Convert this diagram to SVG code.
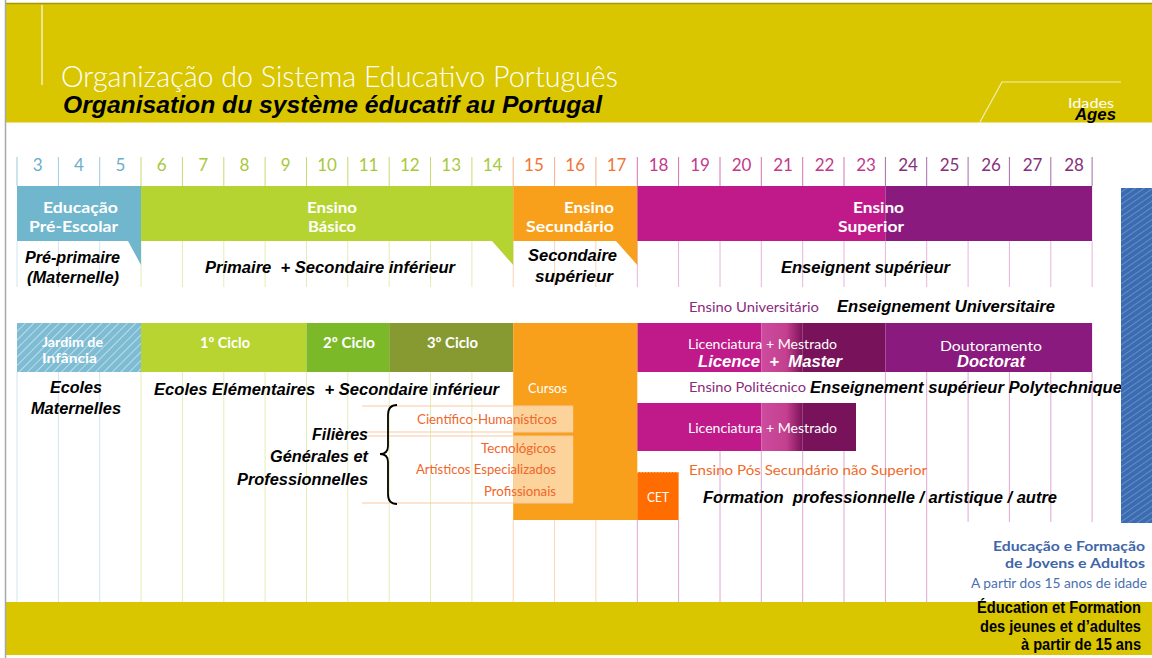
<svg xmlns="http://www.w3.org/2000/svg" width="1152" height="658" viewBox="0 0 1152 658">
<defs>
<style>
.bi{font-family:"Liberation Sans",Arial,sans-serif;font-weight:bold;font-style:italic;fill:#000;font-size:16px}
.wb{font-family:Lato,"Open Sans",sans-serif;font-weight:bold;fill:#fff;font-size:15px}
.wr{font-family:Lato,"Open Sans",sans-serif;fill:#fff;font-size:13px}
.num{font-family:Lato,"Open Sans",sans-serif;font-size:17px;text-anchor:middle}
.pt{font-family:Lato,"Open Sans",sans-serif;font-size:14px}
.pre{white-space:pre}
.g{fill:none;stroke-width:1}
</style>
<pattern id="hatchJ" patternUnits="userSpaceOnUse" width="6" height="6" patternTransform="rotate(45)">
<rect width="6" height="6" fill="#7dbcd3"/>
<line x1="0" y1="0" x2="0" y2="6" stroke="#b9dcea" stroke-width="2"/>
</pattern>
<pattern id="hatchB" patternUnits="userSpaceOnUse" width="5" height="5" patternTransform="rotate(-35)">
<rect width="5" height="5" fill="#3b6cb2"/>
<line x1="0" y1="0" x2="5" y2="0" stroke="#7fa3d3" stroke-width="1.2"/>
</pattern>
<linearGradient id="pinkG" x1="0" x2="1" y1="0" y2="0">
<stop offset="0" stop-color="#cd4c9e"/>
<stop offset="0.6" stop-color="#c4408f"/>
<stop offset="1" stop-color="#7b1259"/>
</linearGradient>
</defs>

<rect width="1152" height="658" fill="#fff"/>

<g id="header">
<rect x="6" y="3" width="1146" height="119.5" fill="#d9c600"/>
<line x1="6" y1="3.5" x2="1152" y2="3.5" stroke="#a89800" stroke-width="1.5"/>
<line x1="42" y1="5" x2="42" y2="85" stroke="#fff" stroke-opacity="0.75" stroke-width="1.5"/>
<path d="M980 122 L1002 82 H1121" fill="none" stroke="#fff" stroke-opacity="0.7" stroke-width="1.2"/>
<text x="61" y="87" textLength="557" lengthAdjust="spacingAndGlyphs" style="font-family:Lato,'Open Sans',sans-serif;font-weight:300;font-size:30px;fill:#fff">Organização do Sistema Educativo Português</text>
<text class="bi" x="63" y="113" textLength="539" lengthAdjust="spacingAndGlyphs" style="font-size:24px">Organisation du système éducatif au Portugal</text>
<text x="1068" y="108" textLength="46" lengthAdjust="spacingAndGlyphs" style="font-family:Lato,'Open Sans',sans-serif;font-size:14px;fill:#fff">Idades</text>
<text class="bi" x="1075" y="120" textLength="41" lengthAdjust="spacingAndGlyphs">Ages</text>
</g>

<rect x="6" y="602" width="1146" height="53" fill="#d9c600"/>
<line x1="5.5" y1="0" x2="5.5" y2="658" stroke="#a8a8a8" stroke-width="1.5"/>

<g id="grid">
<path class="g" stroke="#9ccbe0" d="M17 157V186M58.4 157V186M99.7 157V186"/>
<path class="g" stroke="#c6dc6c" d="M141 157V186M182.4 157V186M223.8 157V186M265.1 157V186M306.5 157V186M347.8 157V186M389.2 157V186M430.5 157V186M471.9 157V186"/>
<path class="g" stroke="#f5b184" d="M513.2 157V186M554.6 157V186M595.9 157V186"/>
<path class="g" stroke="#d672b4" d="M637.3 157V186M678.6 157V186M720 157V186M761.3 157V186M802.7 157V186M844 157V186"/>
<path class="g" stroke="#a86aa8" d="M885.4 157V186M926.7 157V186M968.1 157V186M1009.4 157V186M1050.8 157V186M1092.1 157V186"/>

<path class="g" stroke="#cfe6f0" d="M17 241V287M58.4 241V287M99.7 241V287"/>
<path class="g" stroke="#e4eeb4" d="M141 241V287M182.4 241V287M223.8 241V287M265.1 241V287M306.5 241V287M347.8 241V287M389.2 241V287M430.5 241V287M471.9 241V287"/>
<path class="g" stroke="#fbd6b6" d="M513.2 241V287M554.6 241V287M595.9 241V287"/>
<path class="g" stroke="#e8b4da" d="M637.3 241V287M678.6 241V287M720 241V287M761.3 241V287M802.7 241V287M844 241V287M885.4 241V287M926.7 241V287M968.1 241V287M1009.4 241V287M1050.8 241V287M1092.1 241V287"/>

<path class="g" stroke="#cfe6f0" d="M17 372V602M58.4 372V602M99.7 372V602"/>
<path class="g" stroke="#e4eeb4" d="M141 372V602M182.4 372V602M223.8 372V602M265.1 372V602M306.5 372V602M347.8 372V602M389.2 372V602M430.5 372V602M471.9 372V602"/>
<path class="g" stroke="#fbd6b6" d="M513.2 520V602M554.6 520V602M595.9 520V602"/>
<path class="g" stroke="#e2a6d2" d="M637.3 520V602M678.6 520V602M720 451V602M761.3 451V602M802.7 451V602M844 451V602M885.4 372V602M926.7 372V602M968.1 372V522M1009.4 372V522M1050.8 372V522M1092.1 372V522"/>
</g>

<g id="ages">
<text class="num" fill="#6aaec8" x="37.7" y="171">3</text>
<text class="num" fill="#6aaec8" x="79" y="171">4</text>
<text class="num" fill="#6aaec8" x="120.4" y="171">5</text>
<text class="num" fill="#a8c83c" x="161.7" y="171">6</text>
<text class="num" fill="#a8c83c" x="203.1" y="171">7</text>
<text class="num" fill="#a8c83c" x="244.4" y="171">8</text>
<text class="num" fill="#a8c83c" x="285.8" y="171">9</text>
<text class="num" fill="#a8c83c" x="327.1" y="171">10</text>
<text class="num" fill="#a8c83c" x="368.5" y="171">11</text>
<text class="num" fill="#a8c83c" x="409.8" y="171">12</text>
<text class="num" fill="#a8c83c" x="451.2" y="171">13</text>
<text class="num" fill="#a8c83c" x="492.5" y="171">14</text>
<text class="num" fill="#f07636" x="533.9" y="171">15</text>
<text class="num" fill="#f07636" x="575.2" y="171">16</text>
<text class="num" fill="#f07636" x="616.6" y="171">17</text>
<text class="num" fill="#c23a8a" x="658.5" y="171">18</text>
<text class="num" fill="#c23a8a" x="700" y="171">19</text>
<text class="num" fill="#c23a8a" x="741.5" y="171">20</text>
<text class="num" fill="#c23a8a" x="783" y="171">21</text>
<text class="num" fill="#c23a8a" x="824.5" y="171">22</text>
<text class="num" fill="#c23a8a" x="866" y="171">23</text>
<text class="num" fill="#86307c" x="908" y="171">24</text>
<text class="num" fill="#86307c" x="949.5" y="171">25</text>
<text class="num" fill="#86307c" x="991" y="171">26</text>
<text class="num" fill="#86307c" x="1032.5" y="171">27</text>
<text class="num" fill="#86307c" x="1074" y="171">28</text>
</g>

<g id="pre-escolar">
<path d="M17 186H141V265L128 241H17Z" fill="#70b6cc"/>
<text class="wb" x="43" y="213" textLength="75" lengthAdjust="spacingAndGlyphs">Educação</text>
<text class="wb" x="29" y="232" textLength="89" lengthAdjust="spacingAndGlyphs">Pré-Escolar</text>
<text class="bi" x="25" y="263" textLength="95" lengthAdjust="spacingAndGlyphs">Pré-primaire</text>
<text class="bi" x="27" y="283" textLength="92" lengthAdjust="spacingAndGlyphs">(Maternelle)</text>
</g>

<g id="basico">
<path d="M141 186H513.2V265L492 241H141Z" fill="#b6d431"/>
<text class="wb" x="307" y="213" textLength="50" lengthAdjust="spacingAndGlyphs">Ensino</text>
<text class="wb" x="308" y="232" textLength="48" lengthAdjust="spacingAndGlyphs">Básico</text>
<text class="bi pre" xml:space="preserve" x="205" y="273" textLength="250" lengthAdjust="spacingAndGlyphs">Primaire  + Secondaire inférieur</text>
</g>

<g id="secundario">
<path d="M513.2 186H637.3V265L616 241H513.2Z" fill="#f8a01b"/>
<text class="wb" x="564" y="213" textLength="50" lengthAdjust="spacingAndGlyphs">Ensino</text>
<text class="wb" x="526" y="232" textLength="88" lengthAdjust="spacingAndGlyphs">Secundário</text>
<text class="bi" x="528" y="261" textLength="89" lengthAdjust="spacingAndGlyphs">Secondaire</text>
<text class="bi" x="535" y="282" textLength="78" lengthAdjust="spacingAndGlyphs">supérieur</text>
</g>

<g id="superior">
<rect x="637.3" y="186" width="248.1" height="55" fill="#c0198a"/>
<rect x="885.4" y="186" width="206.7" height="55" fill="#8a1a7e"/>
<text class="wb" x="853" y="213" textLength="51" lengthAdjust="spacingAndGlyphs">Ensino</text>
<text class="wb" x="838" y="232" textLength="66" lengthAdjust="spacingAndGlyphs">Superior</text>
<text class="bi" x="781" y="273" textLength="169" lengthAdjust="spacingAndGlyphs">Enseignent supérieur</text>
</g>

<g id="ensino-universitario">
<text class="pt" fill="#8a2a7c" x="689" y="312" textLength="130" lengthAdjust="spacingAndGlyphs">Ensino Universitário</text>
<text class="bi" x="837" y="312" textLength="218" lengthAdjust="spacingAndGlyphs">Enseignement Universitaire</text>
<rect x="637.3" y="323" width="124" height="49" fill="#c0198a"/>
<rect x="761.3" y="323" width="41.4" height="49" fill="url(#pinkG)"/>
<rect x="802.7" y="323" width="82.7" height="49" fill="#78125a"/>
<text class="wr" x="688" y="349" textLength="149" lengthAdjust="spacingAndGlyphs">Licenciatura + Mestrado</text>
<text class="bi pre" xml:space="preserve" x="698" y="367" textLength="144" lengthAdjust="spacingAndGlyphs" style="fill:#fff">Licence  +  Master</text>
</g>

<g id="doutoramento">
<rect x="885.4" y="323" width="206.7" height="49" fill="#8a1a7e"/>
<text class="wr" x="940" y="351" textLength="102" lengthAdjust="spacingAndGlyphs" style="font-size:14px">Doutoramento</text>
<text class="bi" x="957" y="367" textLength="68" lengthAdjust="spacingAndGlyphs" style="fill:#fff;font-size:17px">Doctorat</text>
</g>

<g id="jardim">
<rect x="17" y="323" width="124" height="49" fill="url(#hatchJ)"/>
<text class="wb" x="42" y="347" textLength="61" lengthAdjust="spacingAndGlyphs" style="font-size:14px">Jardim de</text>
<text class="wb" x="42" y="363" textLength="55" lengthAdjust="spacingAndGlyphs" style="font-size:14px">Infância</text>
<text class="bi" x="50" y="393" textLength="52" lengthAdjust="spacingAndGlyphs">Ecoles</text>
<text class="bi" x="31" y="414" textLength="90" lengthAdjust="spacingAndGlyphs">Maternelles</text>
</g>

<g id="ciclo1">
<rect x="141" y="323" width="165.5" height="49" fill="#b7d431"/>
<text class="wb" x="200" y="348" textLength="50" lengthAdjust="spacingAndGlyphs">1º Ciclo</text>
</g>
<g id="ciclo2">
<rect x="306.5" y="323" width="82.7" height="49" fill="#7cb928"/>
<text class="wb" x="323" y="348" textLength="52" lengthAdjust="spacingAndGlyphs">2º Ciclo</text>
</g>
<g id="ciclo3">
<rect x="389.2" y="323" width="124" height="49" fill="#879a32"/>
<text class="wb" x="427" y="348" textLength="51" lengthAdjust="spacingAndGlyphs">3º Ciclo</text>
</g>
<g id="ecoles-elementaires">
<text class="bi pre" xml:space="preserve" x="154" y="395" textLength="345" lengthAdjust="spacingAndGlyphs">Ecoles Elémentaires  + Secondaire inférieur</text>
</g>

<g id="cursos">
<rect x="513.2" y="323" width="124.1" height="197" fill="#f8a01b"/>
<text class="wr" x="528" y="393" textLength="39" lengthAdjust="spacingAndGlyphs" style="font-size:14px">Cursos</text>
<rect x="513.2" y="406" width="60" height="26" fill="#fde0bc" fill-opacity="0.8"/>
<rect x="513.2" y="436" width="60" height="67" fill="#fde0bc" fill-opacity="0.8"/>
<path d="M362 406H573M362 432H573M362 436H573M362 503H573" fill="none" stroke="#f9c9a2" stroke-width="1"/>
<text class="pt" fill="#f0662a" x="417" y="424" textLength="140" lengthAdjust="spacingAndGlyphs">Científico-Humanísticos</text>
<text class="pt" fill="#f0662a" x="481" y="453" textLength="75" lengthAdjust="spacingAndGlyphs">Tecnológicos</text>
<text class="pt" fill="#f0662a" x="416" y="474" textLength="140" lengthAdjust="spacingAndGlyphs">Artísticos Especializados</text>
<text class="pt" fill="#f0662a" x="484" y="496" textLength="72" lengthAdjust="spacingAndGlyphs">Profissionais</text>
</g>

<g id="filieres">
<text class="bi" x="312" y="440" textLength="56" lengthAdjust="spacingAndGlyphs">Filières</text>
<text class="bi" x="270" y="462" textLength="98" lengthAdjust="spacingAndGlyphs">Générales et</text>
<text class="bi" x="237" y="485" textLength="131" lengthAdjust="spacingAndGlyphs">Professionnelles</text>
</g>

<g id="connectors">
<path d="M397 405Q388 405 388 415V446Q388 454 380 454Q388 454 388 462V494Q388 504 397 504" fill="none" stroke="#000" stroke-width="1.8"/>
</g>

<g id="ensino-politecnico">
<text class="pt" fill="#8a2a7c" x="689" y="392" textLength="117" lengthAdjust="spacingAndGlyphs">Ensino Politécnico</text>
<text class="bi" x="810" y="393" textLength="312" lengthAdjust="spacingAndGlyphs">Enseignement supérieur Polytechnique</text>
<rect x="637.3" y="403" width="124" height="48" fill="#c0198a"/>
<rect x="761.3" y="403" width="41.4" height="48" fill="url(#pinkG)"/>
<rect x="802.7" y="403" width="53.3" height="48" fill="#78125a"/>
<text class="wr" x="688" y="433" textLength="149" lengthAdjust="spacingAndGlyphs">Licenciatura + Mestrado</text>
</g>

<g id="pos-secundario">
<text class="pt" fill="#f06a2a" x="689" y="475" textLength="238" lengthAdjust="spacingAndGlyphs">Ensino Pós Secundário não Superior</text>
<rect x="637.3" y="472" width="41.3" height="48" fill="#ff6c00"/>
<line x1="637.3" y1="472.5" x2="678.6" y2="472.5" stroke="#ffb070" stroke-dasharray="1.5 1.5"/>
<text class="wr" x="647" y="502" textLength="22" lengthAdjust="spacingAndGlyphs">CET</text>
<text class="bi pre" xml:space="preserve" x="703" y="503" textLength="354" lengthAdjust="spacingAndGlyphs">Formation  professionnelle / artistique / autre</text>
</g>

<g id="efja">
<rect x="1121" y="188" width="31" height="335" fill="url(#hatchB)"/>
<text class="pt" x="993" y="551" textLength="152" lengthAdjust="spacingAndGlyphs" style="fill:#3f66a8;font-weight:bold">Educação e Formação</text>
<text class="pt" x="1005" y="568" textLength="140" lengthAdjust="spacingAndGlyphs" style="fill:#3f66a8;font-weight:bold">de Jovens e Adultos</text>
<text class="pt" x="971" y="588" textLength="176" lengthAdjust="spacingAndGlyphs" style="fill:#4a70b0;font-size:13px">A partir dos 15 anos de idade</text>
<text x="977" y="613" textLength="164" lengthAdjust="spacingAndGlyphs" style="font-family:'Liberation Sans',Arial,sans-serif;font-weight:bold;font-size:16px;fill:#000">Éducation et Formation</text>
<text x="980" y="632" textLength="161" lengthAdjust="spacingAndGlyphs" style="font-family:'Liberation Sans',Arial,sans-serif;font-weight:bold;font-size:16px;fill:#000">des jeunes et d’adultes</text>
<text x="1021" y="650" textLength="120" lengthAdjust="spacingAndGlyphs" style="font-family:'Liberation Sans',Arial,sans-serif;font-weight:bold;font-size:16px;fill:#000">à partir de 15 ans</text>
</g>
</svg>
